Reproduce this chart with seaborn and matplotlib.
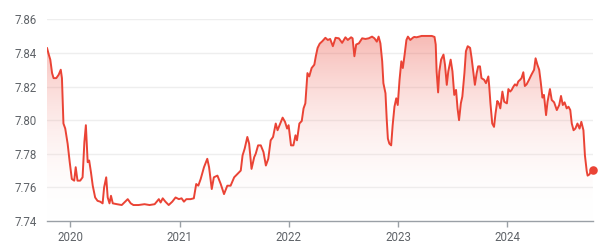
import matplotlib
matplotlib.use("Agg")
import matplotlib.pyplot as plt
import matplotlib.dates as mdates
import numpy as np
import pandas as pd
import seaborn as sns

dates = [
    "2019-10-15", "2019-10-21", "2019-10-26", "2019-11-01", "2019-11-06", "2019-11-15", "2019-11-23",
    "2019-11-30", "2019-12-04", "2019-12-09", "2019-12-15", "2019-12-23", "2019-12-30", "2020-01-06",
    "2020-01-14", "2020-01-19", "2020-01-25", "2020-02-03", "2020-02-11", "2020-02-17", "2020-02-22",
    "2020-02-28", "2020-03-04", "2020-03-10", "2020-03-16", "2020-03-24", "2020-04-01", "2020-04-10",
    "2020-04-18", "2020-04-23", "2020-04-30", "2020-05-05", "2020-05-11", "2020-05-16", "2020-05-22",
    "2020-06-05", "2020-06-21", "2020-07-11", "2020-07-21", "2020-07-30", "2020-08-16", "2020-09-05",
    "2020-09-22", "2020-10-09", "2020-10-23", "2020-10-29", "2020-11-05", "2020-11-14", "2020-11-25",
    "2020-12-07", "2020-12-18", "2020-12-29", "2021-01-07", "2021-01-15", "2021-01-23", "2021-02-06",
    "2021-02-17", "2021-02-25", "2021-03-04", "2021-03-12", "2021-03-23", "2021-04-03", "2021-04-09",
    "2021-04-18", "2021-04-25", "2021-05-07", "2021-05-18", "2021-05-29", "2021-06-09", "2021-06-20",
    "2021-07-02", "2021-07-13", "2021-07-24", "2021-07-30", "2021-08-06", "2021-08-15", "2021-08-21",
    "2021-08-29", "2021-09-07", "2021-09-12", "2021-09-20", "2021-09-29", "2021-10-08", "2021-10-16",
    "2021-10-24", "2021-11-01", "2021-11-09", "2021-11-18", "2021-11-24", "2021-12-03", "2021-12-11",
    "2021-12-19", "2021-12-26", "2021-12-31", "2022-01-08", "2022-01-16", "2022-01-23", "2022-01-28",
    "2022-02-05", "2022-02-13", "2022-02-19", "2022-02-25", "2022-03-04", "2022-03-10", "2022-03-18",
    "2022-03-27", "2022-04-01", "2022-04-07", "2022-04-14", "2022-04-23", "2022-05-03", "2022-05-11",
    "2022-05-19", "2022-05-28", "2022-06-06", "2022-06-17", "2022-06-28", "2022-07-09", "2022-07-17",
    "2022-07-28", "2022-08-02", "2022-08-08", "2022-08-14", "2022-08-23", "2022-09-03", "2022-09-14",
    "2022-09-25", "2022-10-06", "2022-10-14", "2022-10-22", "2022-10-28", "2022-11-03", "2022-11-09",
    "2022-11-13", "2022-11-20", "2022-11-24", "2022-11-28", "2022-12-03", "2022-12-09", "2022-12-14",
    "2022-12-20", "2022-12-26", "2022-12-31", "2023-01-06", "2023-01-12", "2023-01-17", "2023-01-23",
    "2023-01-29", "2023-02-03", "2023-02-11", "2023-02-20", "2023-02-24", "2023-03-04", "2023-03-21",
    "2023-04-07", "2023-04-24", "2023-05-03", "2023-05-07", "2023-05-10", "2023-05-15", "2023-05-19",
    "2023-05-25", "2023-06-02", "2023-06-07", "2023-06-13", "2023-06-18", "2023-06-26", "2023-07-02",
    "2023-07-08", "2023-07-14", "2023-07-19", "2023-07-24", "2023-07-30", "2023-08-04", "2023-08-11",
    "2023-08-16", "2023-08-22", "2023-08-30", "2023-09-04", "2023-09-10", "2023-09-15", "2023-09-21",
    "2023-09-26", "2023-10-02", "2023-10-07", "2023-10-16", "2023-10-22", "2023-10-30", "2023-11-02",
    "2023-11-06", "2023-11-12", "2023-11-18", "2023-11-23", "2023-11-29", "2023-12-04", "2023-12-09",
    "2023-12-16", "2023-12-22", "2023-12-25", "2023-12-31", "2024-01-05", "2024-01-11", "2024-01-16",
    "2024-01-22", "2024-01-27", "2024-02-02", "2024-02-07", "2024-02-13", "2024-02-18", "2024-02-24",
    "2024-02-29", "2024-03-06", "2024-03-14", "2024-03-22", "2024-03-31", "2024-04-05", "2024-04-11",
    "2024-04-17", "2024-04-22", "2024-04-28", "2024-05-03", "2024-05-10", "2024-05-15", "2024-05-23",
    "2024-05-29", "2024-06-06", "2024-06-15", "2024-06-23", "2024-06-29", "2024-07-05", "2024-07-11",
    "2024-07-18", "2024-07-24", "2024-07-30", "2024-08-04", "2024-08-10", "2024-08-16", "2024-08-23",
    "2024-08-30", "2024-09-05", "2024-09-12", "2024-09-17", "2024-09-23", "2024-09-26", "2024-10-02",
    "2024-10-09", "2024-10-13",
]

rates = [
    7.843, 7.839, 7.836, 7.828, 7.825, 7.825, 7.827,
    7.830, 7.825, 7.798, 7.795, 7.786, 7.775, 7.765,
    7.764, 7.772, 7.764, 7.764, 7.766, 7.787, 7.797,
    7.775, 7.776, 7.769, 7.761, 7.754, 7.752, 7.7515,
    7.7505, 7.760, 7.766, 7.754, 7.7505, 7.755, 7.7505,
    7.750, 7.7495, 7.753, 7.7505, 7.7495, 7.7495, 7.7500,
    7.7495, 7.7500, 7.753, 7.751, 7.7535, 7.7515, 7.7495,
    7.7515, 7.754, 7.753, 7.7535, 7.7515, 7.753, 7.753,
    7.7535, 7.762, 7.761, 7.765, 7.772, 7.777, 7.772,
    7.759, 7.766, 7.767, 7.762, 7.756, 7.761, 7.761,
    7.766, 7.768, 7.770, 7.779, 7.783, 7.790, 7.786,
    7.771, 7.778, 7.780, 7.785, 7.785, 7.781, 7.773,
    7.777, 7.788, 7.790, 7.798, 7.794, 7.798, 7.8015,
    7.799, 7.795, 7.797, 7.785, 7.785, 7.791, 7.788,
    7.798, 7.7995, 7.807, 7.810, 7.828, 7.826, 7.831,
    7.833, 7.838, 7.843, 7.8455, 7.847, 7.849, 7.8477,
    7.8483, 7.844, 7.849, 7.8487, 7.846, 7.8493, 7.8477,
    7.8493, 7.8487, 7.838, 7.845, 7.8457, 7.8487, 7.8483,
    7.8487, 7.8497, 7.8487, 7.8467, 7.8497, 7.8457, 7.835,
    7.822, 7.816, 7.801, 7.789, 7.786, 7.785, 7.797,
    7.808, 7.813, 7.809, 7.824, 7.835, 7.831, 7.839,
    7.8477, 7.8497, 7.8477, 7.8491, 7.8495, 7.8493, 7.8501,
    7.8501, 7.8501, 7.8495, 7.845, 7.829, 7.8165, 7.829,
    7.836, 7.839, 7.833, 7.821, 7.829, 7.836, 7.829,
    7.815, 7.818, 7.807, 7.800, 7.810, 7.814, 7.828,
    7.841, 7.844, 7.843, 7.837, 7.828, 7.821, 7.828,
    7.832, 7.832, 7.825, 7.824, 7.822, 7.826, 7.820,
    7.810, 7.798, 7.796, 7.804, 7.8114, 7.810, 7.807,
    7.817, 7.811, 7.8106, 7.810, 7.8185, 7.817, 7.818,
    7.820, 7.8213, 7.8205, 7.823, 7.824, 7.825, 7.8285,
    7.8203, 7.8213, 7.824, 7.827, 7.830, 7.8368, 7.833,
    7.830, 7.823, 7.8134, 7.815, 7.803, 7.811, 7.8185,
    7.812, 7.8106, 7.806, 7.809, 7.8144, 7.809, 7.8106,
    7.807, 7.808, 7.806, 7.798, 7.794, 7.795, 7.798,
    7.795, 7.799, 7.794, 7.779, 7.7697, 7.767, 7.7677,
    7.7703, 7.7703,
]

y_ticks = [7.74, 7.76, 7.78, 7.80, 7.82, 7.84, 7.86]
x_tick_labels = ["2020", "2021", "2022", "2023", "2024"]

df = pd.DataFrame({"date": pd.to_datetime(dates), "rate": rates})

LINE = "#ea4335"
GRID = "#eeeeee"
TEXT = "#5f6368"

sns.set_theme(style="white")
plt.rcParams["font.family"] = ["Roboto", "DejaVu Sans"]

fig = plt.figure(figsize=(6.06, 2.48), dpi=100)
ax = fig.add_axes([47 / 606, 1 - 221 / 248, (593 - 47) / 606, (221 - 19.3) / 248])

xmin = pd.Timestamp("2019-10-15")
xmax = pd.Timestamp("2024-10-14")
ax.set_xlim(xmin, xmax)
ax.set_ylim(y_ticks[0], y_ticks[-1])

# grid
for yv in y_ticks[1:]:
    ax.axhline(yv, color=GRID, lw=1, zorder=0)

# gradient fill under the line
poly = ax.fill_between(df["date"], df["rate"], y_ticks[0], color="none", lw=0)
grad = np.linspace(0, 1, 256).reshape(-1, 1)
cmap = matplotlib.colors.LinearSegmentedColormap.from_list(
    "g", [(1, 1, 1, 0), (234 / 255, 67 / 255, 53 / 255, 0.38)])
x0, x1 = mdates.date2num(xmin), mdates.date2num(xmax)
im = ax.imshow(grad, extent=[x0, x1, y_ticks[0], 7.852], origin="lower",
               aspect="auto", cmap=cmap, zorder=1, interpolation="bicubic")
path = poly.get_paths()[0]
im.set_clip_path(path, transform=ax.transData)
ax.set_xlim(xmin, xmax)
ax.set_ylim(y_ticks[0], y_ticks[-1])

sns.lineplot(data=df, x="date", y="rate", ax=ax, color=LINE, lw=1.4, zorder=3)
ax.scatter([df["date"].iloc[-1]], [df["rate"].iloc[-1]], s=38, color=LINE, zorder=4,
           clip_on=False, linewidths=0)

# axes styling
for s in ["top", "right", "left"]:
    ax.spines[s].set_visible(False)
ax.spines["bottom"].set_color("#9aa0a6")
ax.spines["bottom"].set_linewidth(1)
ax.set_xlabel("")
ax.set_ylabel("")
ax.set_yticks(y_ticks)
ax.set_yticklabels([f"{v:.2f}" for v in y_ticks])
ax.tick_params(axis="y", length=0, pad=7, labelsize=8.3, labelcolor=TEXT)
ax.set_xticks([pd.Timestamp(f"{y}-01-01") for y in x_tick_labels])
ax.set_xticklabels(x_tick_labels)
ax.tick_params(axis="x", length=4, width=1, color="#9aa0a6", pad=3, labelsize=8.3,
               labelcolor=TEXT, direction="out", bottom=True)
ax.grid(False)

fig.savefig("out.png", dpi=100)
